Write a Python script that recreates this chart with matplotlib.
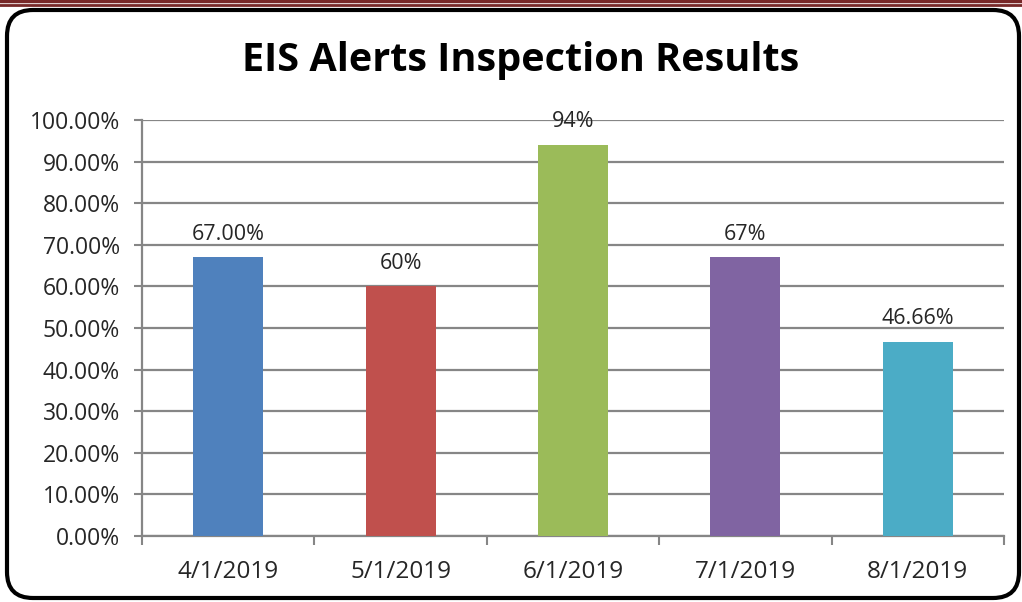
import matplotlib.pyplot as plt
from matplotlib.patches import FancyBboxPatch
from matplotlib.transforms import IdentityTransform
from matplotlib.lines import Line2D

dates = ['4/1/2019', '5/1/2019', '6/1/2019', '7/1/2019', '8/1/2019']
values = [0.67, 0.60, 0.94, 0.67, 0.4666]
labels = ['67.00%', '60%', '94%', '67%', '46.66%']
colors = ['#4F81BD', '#C0504D', '#9BBB59', '#8064A2', '#4BACC6']

W, H = 1022, 602
fig = plt.figure(figsize=(W / 100, H / 100), dpi=100)
plt.rcParams['font.family'] = ['Open Sans', 'DejaVu Sans']

# dark red rule at the top of the page
for yy, lw in [(1.2, 2.5), (4.5, 2.0)]:
    fig.add_artist(Line2D([0, 1], [1 - yy / H, 1 - yy / H], transform=fig.transFigure,
                          color='#772828', lw=lw))

# rounded chart border (pixel coords)
box = FancyBboxPatch((7, 4), 1012, 588, boxstyle='round,pad=0,rounding_size=26',
                     transform=IdentityTransform(), facecolor='white',
                     edgecolor='black', lw=3, zorder=0)
fig.add_artist(box)

ax = fig.add_axes([142 / W, 1 - 536 / H, (1004 - 142) / W, (536 - 120) / H])
ax.set_facecolor('none')
x = list(range(len(dates)))
ax.bar(x, values, width=0.405, color=colors, zorder=3)
for xi, v, t in zip(x, values, labels):
    ax.text(xi, v + 0.03, t, ha='center', va='bottom', fontsize=15.5, color='#262626',
            zorder=4)

ax.set_xlim(-0.5, len(dates) - 0.5)
ax.set_ylim(0, 1.0)
ax.set_yticks([i / 10 for i in range(11)])
ax.set_yticklabels(['%.2f%%' % (i * 10) for i in range(11)])
ax.set_xticks(x)
ax.set_xticklabels(dates)
ax.set_xticks([i - 0.5 for i in range(len(dates) + 1)], minor=True)
ax.tick_params(axis='x', which='major', length=0, pad=17, labelsize=17.5, labelcolor='#262626')
ax.tick_params(axis='x', which='minor', length=6.5, width=1.5, color='#868686')
ax.tick_params(axis='y', length=6, width=1.5, color='#868686', labelsize=16.5,
               labelcolor='#262626', pad=10)
ax.grid(axis='y', color='#868686', lw=1.6, zorder=0)
for s in ['top', 'right']:
    ax.spines[s].set_visible(False)
for s in ['left', 'bottom']:
    ax.spines[s].set_color('#868686')
    ax.spines[s].set_linewidth(1.6)

fig.text(521 / W, 1 - 60 / H, 'EIS Alerts Inspection Results', ha='center', va='center',
         fontsize=28.5, fontweight='bold', color='black')

fig.savefig('out.png', dpi=100)
